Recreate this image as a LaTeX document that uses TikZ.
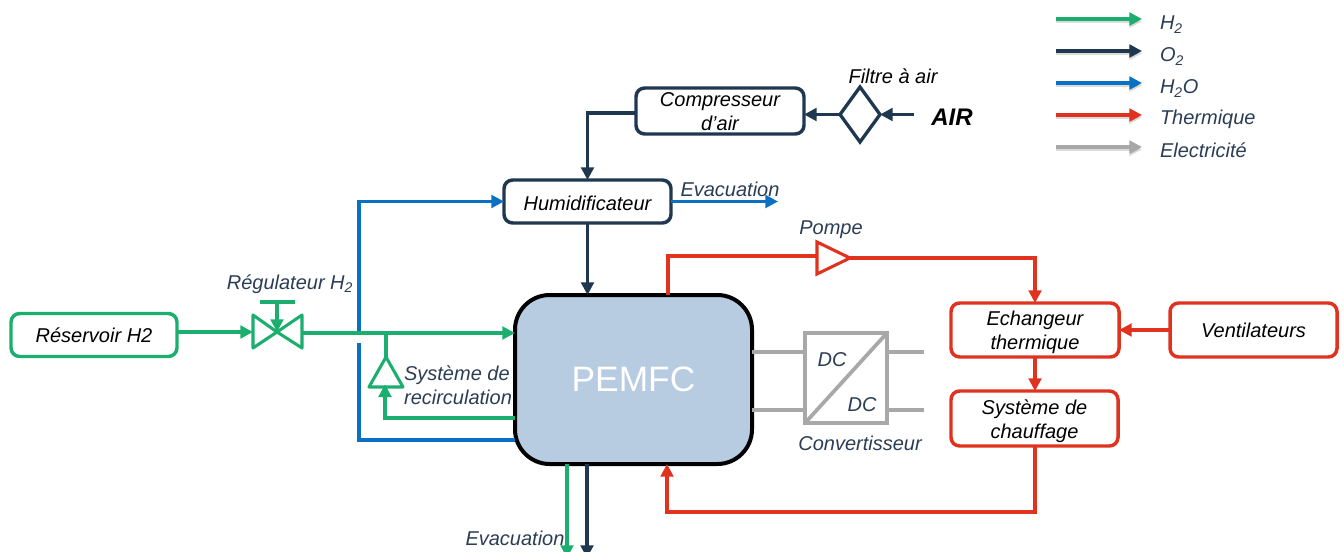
\documentclass[tikz,border=0pt]{standalone}
\usepackage{fontspec}
\setmainfont{Liberation Sans}
\usetikzlibrary{arrows.meta,shapes.geometric,calc}
\definecolor{cgreen}{HTML}{1BAE6E}
\definecolor{cnavy}{HTML}{1F3850}
\definecolor{cblue}{HTML}{0A70C4}
\definecolor{cred}{HTML}{E0321F}
\definecolor{cgray}{HTML}{A8A8A8}
\definecolor{ctext}{HTML}{2B3D55}
\definecolor{cfill}{HTML}{B7CBE1}
\tikzset{
  x=0.75pt,y=-0.75pt,
  flow/.style={line width=2.3pt,line join=miter},
  smalltip/.style={-{Triangle[length=9.5pt,width=9.5pt]}},
  box/.style={draw,line width=2.6pt,rounded corners=6.5pt,fill=white,inner sep=0pt,outer sep=0pt,align=center,font=\fontsize{15}{18}\selectfont\itshape,text=black},
  lab/.style={inner sep=0pt,outer sep=0pt,align=center,font=\fontsize{15}{18}\selectfont\itshape,text=ctext},
  blk/.style={lab,text=black},
  shadowline/.style={line width=2.3pt,black,opacity=0.14,-{Triangle[length=9.5pt,width=9.5pt]}},
}
\begin{document}
\begin{tikzpicture}
\useasboundingbox (0,0) rectangle (1344,552);
% --- coordinates
\coordinate (vC) at (277,332);
\coordinate (vTL) at (253,315); \coordinate (vBL) at (253,348);
\coordinate (vTR) at (302,315); \coordinate (vBR) at (302,348);
\coordinate (vStemTop) at (277,302);
\coordinate (vBarL) at (260,302); \coordinate (vBarR) at (295,302);
\coordinate (junc) at (386,333);
\coordinate (rApex) at (386,357);
\coordinate (rL) at (369,387); \coordinate (rR) at (403,387);
\coordinate (rBase) at (385,387);
\coordinate (bCorner) at (359,440);
\coordinate (bGapLow) at (359,343);
\coordinate (bGapHigh) at (359,331);
\coordinate (pT) at (817,242); \coordinate (pB) at (817,274); \coordinate (pA) at (850,258);
\coordinate (pIn) at (817,256);
\coordinate (redTR) at (1035,258);
\coordinate (redBR) at (1035,512);
\coordinate (redBL) at (667,512);
\coordinate (redTL) at (668,256);
\coordinate (airEnd) at (914,114.5);
\coordinate (evacEnd) at (778,201.5);
\coordinate (gOut) at (567,558);
\coordinate (nOut) at (587,558);
% --- nodes
\node[box,draw=cgreen,minimum width=166pt*0.75,minimum height=43pt*0.75] (res) at (94,335) {Réservoir H2};
\node[draw=black,line width=3pt,fill=cfill,rounded corners=26pt,minimum width=237pt*0.75,minimum height=169pt*0.75,inner sep=0pt,outer sep=0pt,text=white,font=\fontsize{26.5}{30}\selectfont] (pemfc) at (633.5,379.5) {PEMFC};
\node[box,draw=cnavy,minimum width=167pt*0.75,minimum height=43pt*0.75] (hum) at (587.5,201.5) {\rule{0pt}{14pt}Humidificateur};
\node[box,draw=cnavy,minimum width=168pt*0.75,minimum height=46pt*0.75] (comp) at (720,111) {\rule{0pt}{12pt}Compresseur\\d’air};
\node[diamond,draw=cnavy,line width=2.5pt,aspect=0.72,inner sep=0pt,outer sep=0pt,minimum width=40pt*0.75,minimum height=55pt*0.75] (filt) at (860,114.5) {};
\node[box,draw=cred,minimum width=168pt*0.75,minimum height=54pt*0.75] (ech) at (1035,330) {\rule{0pt}{14.5pt}Echangeur\\thermique};
\node[box,draw=cred,minimum width=167pt*0.75,minimum height=55pt*0.75] (chauf) at (1034.5,418.5) {\rule{0pt}{14.5pt}Système de\\chauffage};
\node[box,draw=cred,minimum width=167pt*0.75,minimum height=54pt*0.75] (vent) at (1253.5,330) {Ventilateurs};
\node[draw=cgray,line width=2.8pt,fill=white,minimum width=82pt*0.75,minimum height=90pt*0.75,inner sep=0pt,outer sep=0pt] (dc) at (846,378) {};
\coordinate (e1R) at (924,352); \coordinate (e2R) at (924,410);
% --- H2O (blue)
\draw[flow,cblue] (pemfc.west |- bCorner) -- (bCorner) -- (bGapLow);
\draw[flow,cblue,smalltip] (bGapHigh) -- (bGapHigh |- hum.west) -- (hum.west);
\draw[flow,cblue,smalltip] (hum.east) -- (evacEnd);
% --- H2 (green)
\draw[flow,cgreen,smalltip] (res.east |- vC) -- (vTL |- vC);
\draw[flow,cgreen,line join=round] (vC) -- (vTL) -- (vBL) -- cycle;
\draw[flow,cgreen,line join=round] (vC) -- (vTR) -- (vBR) -- cycle;
\draw[flow,cgreen] (vBarL) -- (vBarR);
\draw[flow,cgreen,smalltip] (vStemTop) -- (vC);
\draw[flow,cgreen,smalltip] (vTR |- junc) -- (pemfc.west |- junc);
\draw[flow,cgreen] (junc) -- (rApex);
\draw[flow,cgreen,line join=round] (rApex) -- (rL) -- (rR) -- cycle;
\draw[flow,cgreen,smalltip] (pemfc.west |- 0,418) -- (rBase |- 0,418) -- ([yshift=2pt]rBase);
\draw[flow,cgreen,smalltip] (pemfc.south -| gOut) -- (gOut);
% --- O2 (navy)
\draw[flow,cnavy,smalltip] (filt.west) -- (comp.east |- filt.west);
\draw[flow,cnavy,smalltip] (airEnd) -- (filt.east);
\draw[flow,cnavy,smalltip] (comp.west |- 0,113) -- (hum.north |- 0,113) -- (hum.north);
\draw[flow,cnavy,smalltip] (hum.south) -- (hum.south |- pemfc.north);
\draw[flow,cnavy,smalltip] (pemfc.south -| nOut) -- (nOut);
% --- thermal (red)
\draw[flow,cred] (redTL |- pemfc.north) -- (redTL) -- (pIn);
\draw[flow,cred,line join=miter] (pT) -- (pA) -- (pB) -- cycle;
\draw[flow,cred,smalltip] (pA) -- (redTR) -- (redTR |- ech.north);
\draw[flow,cred,smalltip] (vent.west) -- (ech.east);
\draw[flow,cred,smalltip] (ech.south) -- (ech.south |- chauf.north);
\draw[flow,cred,smalltip] (redBR |- chauf.south) -- (redBR) -- (redBL) -- (redBL |- pemfc.south);
% --- electrical (gray)
\draw[line width=2.8pt,cgray] (pemfc.east |- 0,352) -- (dc.west |- 0,352);
\draw[line width=2.8pt,cgray] (pemfc.east |- 0,410) -- (dc.west |- 0,410);
\draw[line width=2.8pt,cgray] (dc.east |- e1R) -- (e1R);
\draw[line width=2.8pt,cgray] (dc.east |- e2R) -- (e2R);
\draw[line width=2.8pt,cgray] (dc.south west) -- (dc.north east);
% --- labels
\node[lab] (ldc1) at (832,360) {DC};
\node[lab] (ldc2) at (862,405) {DC};
\node[lab] (lconv) at (860,443) {Convertisseur};
\node[lab,anchor=base] (lreg) at (290,289) {Régulateur H\textsubscript{2}};
\node[lab,align=left] (lrec) at (458,385) {Système de\\recirculation};
\node[lab] (lev1) at (730,189) {Evacuation};
\node[lab] (lev2) at (515,538) {Evacuation};
\node[lab] (lpompe) at (831,229.5) {Pompe};
\node[blk] (lfilt) at (893,76) {Filtre à air};
\node[blk,font=\fontsize{18}{20}\selectfont\bfseries\itshape] (lair) at (952,117) {AIR};
% --- legend
\foreach \n/\c/\y in {a/cgreen/19,b/cnavy/51,c/cblue/83,d/cred/115,e/cgray/147}{
  \coordinate (leg\n1) at (1056,\y);
  \coordinate (leg\n2) at (1142,\y);
  \draw[shadowline] ([yshift=-1.8pt]leg\n1) -- ([yshift=-1.8pt]leg\n2);
  \draw[flow,\c,smalltip] (leg\n1) -- (leg\n2);
}
\node[lab,anchor=base west] (ta) at (1160,30) {H\textsubscript{2}};
\node[lab,anchor=base west] (tb) at (1160,62) {O\textsubscript{2}};
\node[lab,anchor=base west] (tc) at (1160,94) {H\textsubscript{2}O};
\node[lab,anchor=base west] (td) at (1160,125) {Thermique};
\node[lab,anchor=base west] (te) at (1160,158) {Electricité};
\end{tikzpicture}
\end{document}
